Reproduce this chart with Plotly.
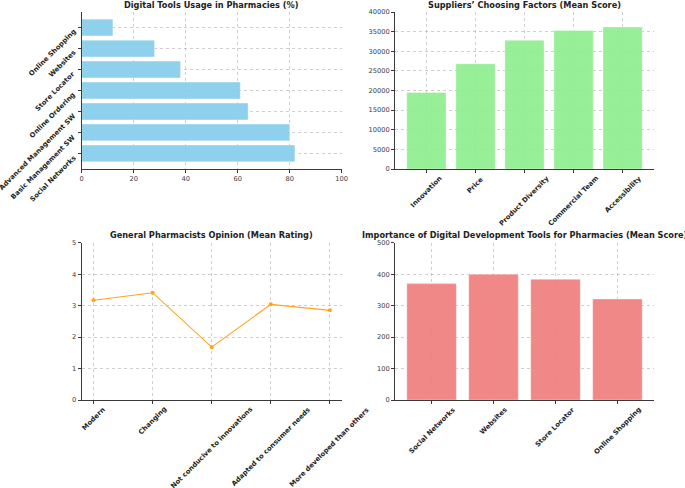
import plotly.graph_objects as go

# ---- data ----
usage_tools = ["Social Networks", "Basic Management SW", "Advanced Management SW",
               "Online Ordering", "Store Locator", "Websites", "Online Shopping"]
usage_pct = [82, 80, 64, 61, 38, 28, 12]

supplier_factors = ["Innovation", "Price", "Product Diversity", "Commercial Team", "Accessibility"]
supplier_scores = [19500, 26800, 32800, 35300, 36200]

opinion_items = ["Modern", "Changing", "Not conducive to innovations",
                 "Adapted to consumer needs", "More developed than others"]
opinion_ratings = [3.17, 3.41, 1.68, 3.04, 2.85]

importance_tools = ["Social Networks", "Websites", "Store Locator", "Online Shopping"]
importance_scores = [370, 400, 384, 321]

titles = ["Digital Tools Usage in Pharmacies (%)",
          "Suppliers’ Choosing Factors (Mean Score)",
          "General Pharmacists Opinion (Mean Rating)",
          "Importance of Digital Development Tools for Pharmacies (Mean Score)"]

FONT = "DejaVu Sans"
TICK_SIZE = 6.7
CAT_SIZE = 6.8
TITLE_SIZE = 8.2
GRID = "rgba(175,175,175,0.6)"
SPINE = "#3a3a3a"

W, H = 685, 488
# plot areas in pixels (left, right, top, bottom)
boxes = [(81.7, 341.7, 12, 169), (395, 654, 12, 169),
         (81.7, 341.7, 242.7, 400), (395, 654, 242.7, 400)]

def dom(b):
    l, r, t, btm = b
    return [l / W, r / W], [1 - btm / H, 1 - t / H]

fig = go.Figure()

bar_line = dict(color="rgba(255,255,255,0.6)", width=0.6)
fig.add_trace(go.Bar(x=usage_pct, y=usage_tools, orientation="h", width=0.8,
                     marker=dict(color="#87CEEB", opacity=0.93, line=bar_line),
                     xaxis="x", yaxis="y"))
fig.add_trace(go.Bar(x=supplier_factors, y=supplier_scores, width=0.8,
                     marker=dict(color="#90EE90", opacity=0.93, line=bar_line),
                     xaxis="x2", yaxis="y2"))
fig.add_trace(go.Scatter(x=opinion_items, y=opinion_ratings, mode="lines+markers",
                         line=dict(color="#FFA31A", width=1.1),
                         marker=dict(color="#FFA31A", size=4),
                         xaxis="x3", yaxis="y3"))
fig.add_trace(go.Bar(x=importance_tools, y=importance_scores, width=0.8,
                     marker=dict(color="#F08080", opacity=0.93, line=bar_line),
                     xaxis="x4", yaxis="y4"))

common = dict(showgrid=True, gridcolor=GRID, griddash="dot", gridwidth=0.6,
              showline=True, linecolor=SPINE, linewidth=1, ticks="outside",
              ticklen=3, tickwidth=0.8, tickcolor=SPINE, zeroline=False,
              tickformat="d", automargin=False,
              tickfont=dict(family=FONT, size=TICK_SIZE, color="#3a3a3a"))

layout = dict(width=W, height=H, showlegend=False, plot_bgcolor="white",
              paper_bgcolor="white",
              margin=dict(l=0, r=0, t=0, b=0, pad=0, autoexpand=False))

names = ["", "2", "3", "4"]
for i, b in enumerate(boxes):
    dx, dy = dom(b)
    layout["xaxis" + names[i]] = dict(common, domain=dx, anchor="y" + names[i])
    layout["yaxis" + names[i]] = dict(common, domain=dy, anchor="x" + names[i])

def bar_range(n):
    return [-0.4 - 0.05 * (n - 0.2), n - 0.6 + 0.05 * (n - 0.2)]

# panel 1: horizontal bars
layout["xaxis"].update(range=[0, 100], dtick=20, tick0=0)
layout["yaxis"].update(type="category", range=bar_range(len(usage_tools)),
                       showticklabels=False)
# panel 2
layout["xaxis2"].update(type="category", range=bar_range(len(supplier_factors)),
                        showticklabels=False)
layout["yaxis2"].update(range=[0, 40000], dtick=5000)
# panel 3
n = len(opinion_items)
layout["xaxis3"].update(type="category", range=[-0.05 * (n - 1), (n - 1) * 1.05],
                        showticklabels=False)
layout["yaxis3"].update(range=[0, 5], dtick=1)
# panel 4
layout["xaxis4"].update(type="category", range=bar_range(len(importance_tools)),
                        showticklabels=False)
layout["yaxis4"].update(range=[0, 500], dtick=100)

annotations = []
# titles
for i, b in enumerate(boxes):
    annotations.append(dict(text="<b>" + titles[i] + "</b>",
                            xref="x" + names[i] + " domain", yref="y" + names[i] + " domain",
                            x=0.5, y=1, xanchor="center", yanchor="middle", yshift=7.5,
                            showarrow=False,
                            font=dict(family=FONT, size=TITLE_SIZE, color="#222")))
# rotated y category labels of panel 1 (end anchored at the tick)
for c in usage_tools:
    annotations.append(dict(text="<b>" + c + "</b>", xref="x domain", yref="y",
                            x=0, y=c, xanchor="right", yanchor="top",
                            xshift=-1.5, yshift=2.5, textangle=-45, showarrow=False,
                            font=dict(family=FONT, size=CAT_SIZE, color="#222")))
# rotated x category labels (centered under ticks)
for i, cats in [(1, supplier_factors), (2, opinion_items), (3, importance_tools)]:
    for c in cats:
        annotations.append(dict(text="<b>" + c + "</b>", xref="x" + names[i],
                                yref="y" + names[i] + " domain", x=c, y=0,
                                xanchor="center", yanchor="top", yshift=-3,
                                textangle=-45, showarrow=False,
                                font=dict(family=FONT, size=CAT_SIZE, color="#222")))
layout["annotations"] = annotations

fig.update_layout(**layout)
fig.write_html("out.html", config={"displayModeBar": False},
               post_script="document.body.style.margin='0';document.body.style.overflow='hidden';")
